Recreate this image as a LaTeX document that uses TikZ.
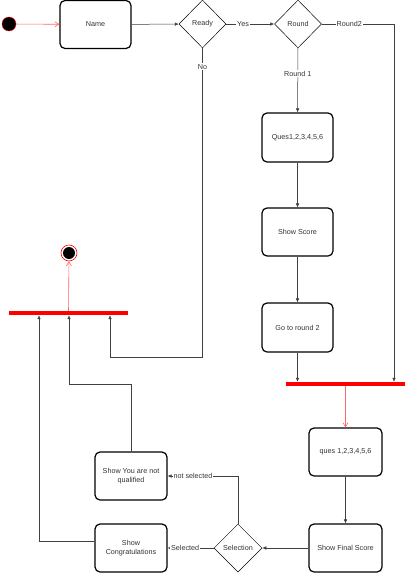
\documentclass[tikz,border=0pt]{standalone}
\usepackage{fontspec}
\setmainfont{Liberation Sans}
\usetikzlibrary{arrows.meta, shapes.geometric}
\tikzset{state/.style={draw, line width=1.2pt, rounded corners=5pt, minimum width=71pt, minimum height=48pt, inner sep=1pt, align=center, text=black!80, font=\fontsize{7.2}{9}\selectfont}}
\tikzset{choice/.style={draw, diamond, line width=0.5pt, minimum width=47pt, minimum height=48pt, inner sep=0pt, text=black!80, font=\fontsize{7.2}{9}\selectfont}}
\tikzset{bar/.style={fill=red, minimum width=119pt, minimum height=4pt, inner sep=0pt}}
\tikzset{flow/.style={draw=black!75, line width=0.5pt, -{Latex[length=4pt, width=3.5pt]}}}
\tikzset{redflow/.style={draw=red!60, line width=0.6pt, -{Straight Barb[length=4pt, width=5pt]}}}
\tikzset{tag/.style={fill=white, inner sep=1pt, text=black!80, font=\fontsize{7.2}{9}\selectfont}}

\begin{document}
\begin{tikzpicture}[x=1pt, y=-1pt]
            \useasboundingbox[fill=white] (0, 0) rectangle (407, 573);
            % top row
            \node[circle, fill=black, draw=red, minimum size=14pt, inner sep=0pt] (start) at (9, 24) {};
            \node[state] (name) at (95.5, 24.5) {Name};
            \node[choice] (ready) at (202.5, 24) {Ready};
            \node[choice] (round) at (298, 24) {Round};
            % round 1
            \node[state, minimum height=49pt] (ques) at (297.5, 137.5) {Ques1,2,3,4,5,6};
            \node[state] (score) at (297.5, 232) {Show Score};
            \node[state, minimum height=49pt] (goround) at (297.5, 327.5) {Go to round 2};
            \node[bar] (joinR) at (345.5, 384) {};
            % round 2
            \node[state, minimum width=73pt] (quesB) at (345.5, 452) {ques 1,2,3,4,5,6};
            \node[state, minimum width=73pt] (final) at (345.5, 548) {Show Final Score};
            \node[choice, minimum width=48pt] (select) at (238, 548) {Selection};
            \node[state, minimum width=72pt] (congrats) at (131, 548) {Show\\Congratulations};
            \node[state, minimum width=72pt] (notqual) at (131, 476) {Show You are not\\qualified};
            \node[bar] (joinL) at (68.5, 313) {};
            \node[circle, draw=red, line width=0.6pt, fill=white, minimum size=16pt, inner sep=0pt] (finish) at (69, 253) {};
            \fill (finish.center) circle (6);
            % bends
            \coordinate (nobend) at (202.5, 357);
            \coordinate (qualbend) at (131, 384);
            % connectors
            \draw[redflow] (start) -- (name);
            \draw[flow] (name) -- (ready);
            \draw[flow] (ready) -- (round) node [tag, pos=0.35] {Yes};
            \draw[flow] (round.east) -| ([xshift=48.5pt]joinR.north) node [tag, pos=0.19] {Round2};
            \draw[flow] (round) -- (ques) node [tag, pos=0.4] {Round 1};
            \draw[flow] (ques) -- (score);
            \draw[flow] (score) -- (goround);
            \draw[flow] (goround.south) -- (goround.south |- joinR.north);
            \draw[redflow] (joinR) -- (quesB);
            \draw[flow] (quesB) -- (final);
            \draw[flow] (final) -- (select);
            \draw[flow] (select) -- (congrats) node [tag, pos=0.62] {Selected};
            \draw[flow] (select.north) |- (notqual.east) node [tag, pos=0.82] {not selected};
            \draw[draw=black!75, line width=0.5pt] (ready.south) -- (nobend) node [tag, pos=0.06] {No};
            \draw[flow] (nobend) -| ([xshift=41.5pt]joinL.south);
            \draw[draw=black!75, line width=0.5pt] (notqual.north) -- (qualbend);
            \draw[flow] (qualbend) -| ([xshift=0.5pt]joinL.south);
            \draw[flow] ([yshift=7pt]congrats.west) -| ([xshift=-29.5pt]joinL.south);
            \draw[redflow] (joinL) -- (finish);
        \end{tikzpicture}
\end{document}
